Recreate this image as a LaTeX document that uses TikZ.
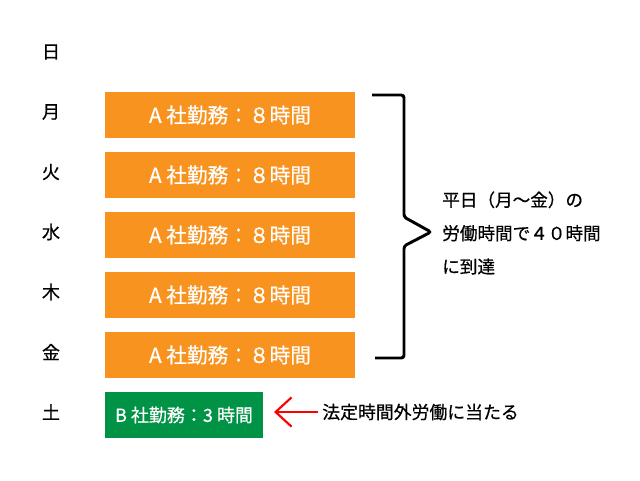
\documentclass[tikz,border=0pt]{standalone}
\usepackage{fontspec}
\setmainfont[FakeBold=0.6]{Noto Sans CJK JP}
\usetikzlibrary{arrows.meta}
\definecolor{boxorange}{RGB}{247,147,30}
\definecolor{boxgreen}{RGB}{0,146,69}
\tikzset{
  daylbl/.style={font=\fontsize{13.5}{15}\selectfont, anchor=center},
  obox/.style={fill=boxorange, draw=none, minimum width=187.5pt, minimum height=34.5pt, inner sep=0pt, text=white, font=\fontsize{15.5}{17}\selectfont},
  gbox/.style={fill=boxgreen, draw=none, minimum width=118.5pt, minimum height=34.5pt, inner sep=0pt, text=white, font=\fontsize{13.5}{15}\selectfont},
  note/.style={font=\fontsize{13.4}{15}\selectfont, inner sep=0pt},
  bracestyle/.style={line width=2.2pt, rounded corners=2pt},
}
\begin{document}
\begin{tikzpicture}[x=0.75pt,y=-0.75pt]
\useasboundingbox (0,0) rectangle (640,480);
\node[daylbl] (sun) at (51,52) {日};
\node[daylbl] (mon) at (51,112) {月};
\node[daylbl] (tue) at (51,172) {火};
\node[daylbl] (wed) at (51,232) {水};
\node[daylbl] (thu) at (51,292) {木};
\node[daylbl] (fri) at (51,352) {金};
\node[daylbl] (sat) at (51,412) {土};

\node[obox] (bmon) at (230,115) {A 社勤務：８時間};
\node[obox] (btue) at (230,175) {A 社勤務：８時間};
\node[obox] (bwed) at (230,235) {A 社勤務：８時間};
\node[obox] (bthu) at (230,295) {A 社勤務：８時間};
\node[obox] (bfri) at (230,355) {A 社勤務：８時間};
\node[gbox] (bsat) at (184,415) {B 社勤務：3 時間};

\coordinate (btop) at (372,95);
\coordinate (bbot) at (375,358);
\coordinate (btip) at (431,232);
\draw[bracestyle] (btop) -- (404,95) -- (404,217) -- (btip) -- (404,246) -- (404,358) -- (bbot);

\node[note, anchor=west, align=left, text width=170pt, font=\fontsize{13.2}{25}\selectfont] (sumtxt) at (442,233) {平日（月～金）の\\労働時間で４０時間\\に到達};

\node[note, anchor=west] (overtxt) at (322,412) {法定時間外労働に当たる};
\coordinate (arrend) at (274,412);
\draw[red, line width=1.6pt, -{Straight Barb[length=12pt, width=22pt]}] (overtxt.west) ++(-4,0) -- (arrend);
\end{tikzpicture}
\end{document}
